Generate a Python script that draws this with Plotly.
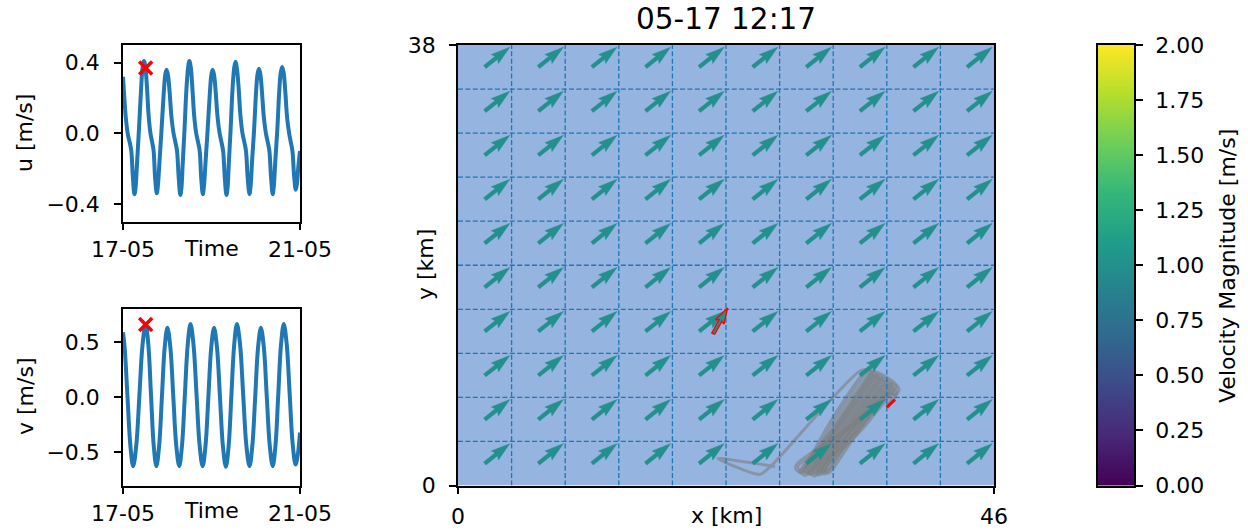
import math
import pandas as pd
import plotly.graph_objects as go
from plotly.colors import sample_colorscale

W, H = 1248, 531
FONT = "DejaVu Sans"
FS = 22

# ---------------- station time series ----------------
t_start = pd.Timestamp("2024-05-17 00:00")
t_end = pd.Timestamp("2024-05-21 00:00")
t_now = pd.Timestamp("2024-05-17 12:17")
time_ticks = [t_start, t_end]
time_ticktext = ["17-05", "21-05"]

u_hours = [0.0, 0.6, 1.6, 2.7, 3.6, 4.5, 5.3, 6.2,
           6.8, 7.6, 8.7, 9.8, 10.6, 11.4,
           12.2, 13.0, 13.9, 14.9, 15.8, 16.6, 17.4, 18.3,
           18.9, 19.8, 20.9, 22.0, 22.9, 23.6,
           24.4, 25.3, 26.3, 27.4, 28.4, 29.3, 30.2, 31.1,
           31.7, 32.4, 33.4, 34.4, 35.3, 36.0,
           36.8, 37.6, 38.6, 39.7, 40.7, 41.6, 42.4, 43.3,
           43.9, 44.8, 45.9, 47.0, 47.9, 48.6,
           49.4, 50.3, 51.3, 52.4, 53.4, 54.3, 55.2, 56.1,
           56.7, 57.4, 58.4, 59.4, 60.3, 61.0,
           61.8, 62.7, 63.7, 64.8, 65.8, 66.7, 67.6, 68.6,
           69.2, 70.0, 71.1, 72.1, 72.9, 73.7,
           74.5, 75.4, 76.4, 77.5, 78.5, 79.4, 80.3, 81.2,
           81.8, 82.6, 83.7, 84.7, 85.5, 86.3,
           87.1, 88.0, 89.0, 90.1, 91.0, 91.9, 92.8, 93.7,
           94.3, 95.1, 96.0]
u_vals = [0.32, 0.22, 0.08, -0.01, -0.05, -0.10, -0.24, -0.345,
          -0.31, -0.17, 0.03, 0.25, 0.37, 0.41,
          0.37, 0.26, 0.10, 0.0, -0.05, -0.10, -0.25, -0.34,
          -0.30, -0.16, 0.02, 0.21, 0.33, 0.36,
          0.33, 0.23, 0.09, 0.0, -0.05, -0.10, -0.25, -0.35,
          -0.31, -0.17, 0.03, 0.25, 0.37, 0.41,
          0.37, 0.26, 0.10, 0.0, -0.05, -0.10, -0.25, -0.345,
          -0.30, -0.16, 0.02, 0.21, 0.33, 0.36,
          0.33, 0.23, 0.09, 0.0, -0.05, -0.10, -0.25, -0.35,
          -0.31, -0.17, 0.03, 0.25, 0.37, 0.405,
          0.365, 0.26, 0.10, 0.0, -0.05, -0.10, -0.25, -0.345,
          -0.30, -0.16, 0.02, 0.22, 0.33, 0.365,
          0.335, 0.23, 0.09, 0.0, -0.05, -0.10, -0.25, -0.345,
          -0.30, -0.16, 0.02, 0.23, 0.34, 0.375,
          0.345, 0.24, 0.09, 0.0, -0.05, -0.10, -0.24, -0.32,
          -0.29, -0.19, -0.10]

v_hours = [0.0, 0.9, 2.45, 4.0, 5.5,
           7.2, 8.9, 10.6, 12.3,
           13.75, 15.2, 16.65, 18.1,
           19.6, 21.1, 22.6, 24.1,
           25.7, 27.3, 28.9, 30.5,
           32.0, 33.55, 35.1, 36.6,
           38.25, 39.9, 41.55, 43.2,
           44.75, 46.3, 47.85, 49.4,
           51.0, 52.6, 54.2, 55.8,
           57.3, 58.8, 60.3, 61.8,
           63.5, 65.2, 66.9, 68.6,
           70.15, 71.7, 73.25, 74.8,
           76.4, 78.0, 79.6, 81.2,
           82.7, 84.2, 85.7, 87.2,
           88.8, 90.4, 92.0, 93.6,
           94.8, 96.0]
v_vals = [0.59, 0.45, 0.0, -0.44, -0.625,
          -0.436, 0.02, 0.476, 0.665,
          0.476, 0.02, -0.436, -0.625,
          -0.44, 0.0, 0.45, 0.63,
          0.45, 0.0, -0.44, -0.625,
          -0.436, 0.02, 0.476, 0.665,
          0.476, 0.02, -0.436, -0.625,
          -0.44, 0.0, 0.45, 0.63,
          0.445, 0.0, -0.445, -0.63,
          -0.44, 0.02, 0.475, 0.665,
          0.476, 0.02, -0.436, -0.625,
          -0.44, 0.0, 0.45, 0.63,
          0.45, 0.0, -0.44, -0.625,
          -0.436, 0.02, 0.476, 0.665,
          0.48, 0.03, -0.42, -0.61,
          -0.52, -0.32]

u_now = 0.37
v_now = 0.66

u_ticks = [0.4, 0.0, -0.4]
u_ticktext = ["0.4", "0.0", "\u22120.4"]
v_ticks = [0.5, 0.0, -0.5]
v_ticktext = ["0.5", "0.0", "\u22120.5"]

# ---------------- map panel ----------------
x_extent_km = 46.0
y_extent_km = 38.0
n_cells_x = 10
n_cells_y = 10
field_u = 0.78          # uniform velocity field [m/s]
field_v = 0.62
station_x = 21.9        # station position [km]
station_y = 13.1

# drifter track [km]; legs separated by None (first leg: transit to the tidal band)
track_x = [27.2, 22.3, 25.9, 27.0, 34.6, 36.0, 36.8, 37.45, 37.85, 37.6, 37.1, None,
           37.1, 33.33, 29.25, 29.05, 29.35, 29.75, None,
           29.75, 32.15, 34.85, 35.2, 35.5, 35.3, None,
           35.3, 32.63, 29.65, 29.45, 29.8, 30.1, None,
           30.1, 32.55, 35.3, 35.65, 35.95, 35.7, None,
           35.7, 33.03, 30.05, 29.85, 30.2, 30.5, None,
           30.5, 32.95, 35.7, 36.05, 36.35, 36.1, None,
           36.1, 33.43, 30.45, 30.25, 30.6, 30.9, None,
           30.9, 33.35, 36.1, 36.45, 36.75, 36.5, None,
           36.5, 33.83, 30.85, 30.65, 31.0, 31.3, None,
           31.3, 33.75, 36.5, 36.85, 37.15, 36.9, None,
           36.9, 34.23, 31.25, 31.05, 31.4, 31.7, None,
           31.7, 34.13, 36.85, 37.2, 37.5, 37.25, None,
           37.25, 34.58, 31.6, 31.4, 31.75, 32.05, None,
           32.05, 34.48, 37.2, 37.55, 37.4, 36.8]
track_y = [1.64, 2.33, 0.95, 1.81, 9.93, 9.76, 9.33, 8.85, 8.3, 7.85, 7.95, None,
           7.95, 4.80, 1.90, 1.5, 1.2, 1.4, None,
           1.4, 5.65, 9.65, 9.85, 9.6, 9.3, None,
           9.3, 5.32, 1.58, 1.2, 0.95, 1.2, None,
           1.2, 5.46, 9.48, 9.65, 9.4, 9.1, None,
           9.1, 5.27, 1.68, 1.3, 1.05, 1.3, None,
           1.3, 5.42, 9.3, 9.45, 9.2, 8.9, None,
           8.9, 5.11, 1.55, 1.15, 0.9, 1.15, None,
           1.15, 5.22, 9.05, 9.2, 8.95, 8.65, None,
           8.65, 5.03, 1.65, 1.25, 1.0, 1.25, None,
           1.25, 5.15, 8.8, 8.95, 8.7, 8.4, None,
           8.4, 4.94, 1.72, 1.32, 1.07, 1.32, None,
           1.32, 5.06, 8.55, 8.7, 8.45, 8.15, None,
           8.15, 4.86, 1.8, 1.4, 1.15, 1.4, None,
           1.4, 4.97, 8.3, 8.1, 7.6, 6.76]
recent_x = [36.8, 37.5]
recent_y = [6.76, 7.40]

cbar_ticks = [0.0, 0.25, 0.5, 0.75, 1.0, 1.25, 1.5, 1.75, 2.0]
cmax = 2.0

# ---------------- page geometry (pixels) ----------------
TS_LEFT, TS_RIGHT = 123, 300
U_TOP, U_BOTTOM = 45, 221.5
V_TOP, V_BOTTOM = 309, 485.5
MAP_LEFT, MAP_RIGHT = 458, 994
MAP_TOP, MAP_BOTTOM = 45, 485.5
CB_LEFT, CB_RIGHT = 1098, 1134

def fx(px):
    return px / W

def fy(py):
    return 1 - py / H

KX = (MAP_RIGHT - MAP_LEFT) / x_extent_km   # px per km
KY = (MAP_BOTTOM - MAP_TOP) / y_extent_km

def arrow_polygon(x0, y0, u, v, px_per_ms, w=3.8, hl=5.0, hal=4.5, hw=3.0):
    """Quiver-style arrow outline (tail at x0, y0) in km coordinates."""
    dx, dy = u * px_per_ms, v * px_per_ms
    L = math.hypot(dx, dy)
    ex, ey = dx / L, dy / L
    nx, ny = -ey, ex
    local = [(0, -w / 2), (L - hal * w, -w / 2), (L - hl * w, -hw * w / 2), (L, 0),
             (L - hl * w, hw * w / 2), (L - hal * w, w / 2), (0, w / 2), (0, -w / 2)]
    xs = [x0 + (a * ex + b * nx) / KX for a, b in local]
    ys = [y0 + (a * ey + b * ny) / KY for a, b in local]
    return xs, ys

fig = go.Figure()

times_u = [t_start + pd.Timedelta(hours=h) for h in u_hours]
times_v = [t_start + pd.Timedelta(hours=h) for h in v_hours]
BLUE = "#1f77b4"

fig.add_trace(go.Scatter(x=times_u, y=u_vals, mode="lines",
                         line=dict(color=BLUE, width=4, shape="spline", smoothing=1.0),
                         xaxis="x", yaxis="y", hoverinfo="skip"))
fig.add_trace(go.Scatter(x=[t_now], y=[u_now], mode="markers",
                         marker=dict(symbol="x-thin", size=13, line=dict(color="red", width=3.5)),
                         xaxis="x", yaxis="y", hoverinfo="skip"))
fig.add_trace(go.Scatter(x=times_v, y=v_vals, mode="lines",
                         line=dict(color=BLUE, width=4, shape="spline", smoothing=1.0),
                         xaxis="x2", yaxis="y2", hoverinfo="skip"))
fig.add_trace(go.Scatter(x=[t_now], y=[v_now], mode="markers",
                         marker=dict(symbol="x-thin", size=13, line=dict(color="red", width=3.5)),
                         xaxis="x2", yaxis="y2", hoverinfo="skip"))

# drifter track: one trace per leg so that overlapping passes darken
legs = []
leg_x, leg_y = [], []
for xv, yv in zip(track_x + [None], track_y + [None]):
    if xv is None:
        legs.append((leg_x, leg_y))
        leg_x, leg_y = [], []
    else:
        leg_x.append(xv)
        leg_y.append(yv)
for k, (lx, ly) in enumerate(legs):
    fig.add_trace(go.Scatter(x=lx, y=ly, mode="lines",
                             line=dict(color="rgba(125,125,125,0.58)",
                                       width=3 if k == 0 else 5,
                                       shape="spline", smoothing=0.6),
                             xaxis="x3", yaxis="y3", hoverinfo="skip"))

# dashed cell grid
cell_w = x_extent_km / n_cells_x
cell_h = y_extent_km / n_cells_y
gx, gy = [], []
for i in range(1, n_cells_x):
    gx += [i * cell_w, i * cell_w, None]
    gy += [0, y_extent_km, None]
for j in range(1, n_cells_y):
    gx += [0, x_extent_km, None]
    gy += [j * cell_h, j * cell_h, None]
fig.add_trace(go.Scatter(x=gx, y=gy, mode="lines",
                         line=dict(color=BLUE, width=1.3, dash="5px,2.4px"),
                         xaxis="x3", yaxis="y3", hoverinfo="skip"))

# velocity field arrows, coloured by speed
speed = math.hypot(field_u, field_v)
arrow_color = sample_colorscale("Viridis", [speed / cmax])[0]
ax_all, ay_all = [], []
for i in range(n_cells_x):
    for j in range(n_cells_y):
        cx = (i + 0.5) * cell_w
        cy = (j + 0.5) * cell_h
        xs, ys = arrow_polygon(cx, cy, field_u, field_v, 32.0)
        ax_all += xs + [None]
        ay_all += ys + [None]
fig.add_trace(go.Scatter(x=ax_all, y=ay_all, mode="lines", fill="toself",
                         fillcolor=arrow_color, line=dict(color=arrow_color, width=0.5),
                         xaxis="x3", yaxis="y3", hoverinfo="skip"))

# current velocity at the station
sx, sy = arrow_polygon(station_x, station_y, u_now, v_now, 39.0, w=3.2)
fig.add_trace(go.Scatter(x=sx, y=sy, mode="lines", fill="toself",
                         fillcolor=arrow_color, line=dict(color="red", width=1.4),
                         xaxis="x3", yaxis="y3", hoverinfo="skip"))

# latest drifter segment
fig.add_trace(go.Scatter(x=recent_x, y=recent_y, mode="lines",
                         line=dict(color="red", width=3),
                         xaxis="x3", yaxis="y3", hoverinfo="skip"))

# colour bar drawn as a one-column heatmap on its own axes
cb_steps = 256
cb_levels = [cmax * k / (cb_steps - 1) for k in range(cb_steps)]
fig.add_trace(go.Heatmap(z=[[lv] for lv in cb_levels], x=[0.5], y=cb_levels,
                         colorscale="Viridis", zmin=0, zmax=cmax, showscale=False,
                         xaxis="x4", yaxis="y4", hoverinfo="skip"))

axis_style = dict(showline=True, linecolor="black", linewidth=1.6, mirror=True,
                  ticks="outside", ticklen=7, tickwidth=1.6, tickcolor="black",
                  showgrid=False, zeroline=False, automargin=False,
                  tickfont=dict(family=FONT, size=FS, color="black"))

time_axis = dict(axis_style, type="date", range=[t_start, t_end],
                 tickvals=time_ticks, ticktext=time_ticktext,
                 domain=[fx(TS_LEFT), fx(TS_RIGHT)])

fig.update_layout(
    width=W, height=H, margin=dict(l=0, r=0, t=0, b=0, autoexpand=False),
    paper_bgcolor="white", plot_bgcolor="white", showlegend=False,
    xaxis=dict(time_axis, anchor="y"),
    yaxis=dict(axis_style, range=[-0.5, 0.5], tickvals=u_ticks, ticktext=u_ticktext,
               ticklabelstandoff=10, domain=[fy(U_BOTTOM), fy(U_TOP)], anchor="x"),
    xaxis2=dict(time_axis, anchor="y2"),
    yaxis2=dict(axis_style, range=[-0.8, 0.8], tickvals=v_ticks, ticktext=v_ticktext,
                ticklabelstandoff=10, domain=[fy(V_BOTTOM), fy(V_TOP)], anchor="x2"),
    xaxis3=dict(axis_style, range=[0, x_extent_km], tickvals=[0, x_extent_km],
                ticktext=["0", "46"], ticklabelstandoff=3,
                domain=[fx(MAP_LEFT), fx(MAP_RIGHT)], anchor="y3"),
    yaxis3=dict(axis_style, range=[0, y_extent_km], tickvals=[0, y_extent_km],
                ticktext=["0", "38"], ticklabelstandoff=9,
                domain=[fy(MAP_BOTTOM), fy(MAP_TOP)], anchor="x3"),
    xaxis4=dict(axis_style, range=[0, 1], ticks="", showticklabels=False,
                domain=[fx(CB_LEFT), fx(CB_RIGHT)], anchor="y4"),
    yaxis4=dict(axis_style, range=[0, cmax], side="right", tickvals=cbar_ticks,
                ticktext=[f"{t:.2f}" for t in cbar_ticks], ticklabelstandoff=8,
                domain=[fy(MAP_BOTTOM), fy(MAP_TOP)], anchor="x4"),
    shapes=[dict(type="rect", xref="x3", yref="y3", x0=0, x1=x_extent_km, y0=0, y1=y_extent_km,
                 fillcolor="#95b4e0", line=dict(width=0), layer="below")],
)

def label(text, px, py, size=FS, angle=0):
    fig.add_annotation(text=text, x=fx(px), y=fy(py), xref="paper", yref="paper",
                       showarrow=False, textangle=angle, xanchor="center", yanchor="middle",
                       font=dict(family=FONT, size=size, color="black"))

label("Time", 211.5, 248)
label("Time", 211.5, 510)
label("u [m/s]", 25, 133, angle=-90)
label("v [m/s]", 25, 397, angle=-90)
label("y [km]", 425, 265, angle=-90)
label("x [km]", 726, 515)
label("05-17 12:17", 726, 19, size=29.5)
label("Velocity Magnitude [m/s]", 1227, 266, angle=-90)

fig.write_html("out.html")
